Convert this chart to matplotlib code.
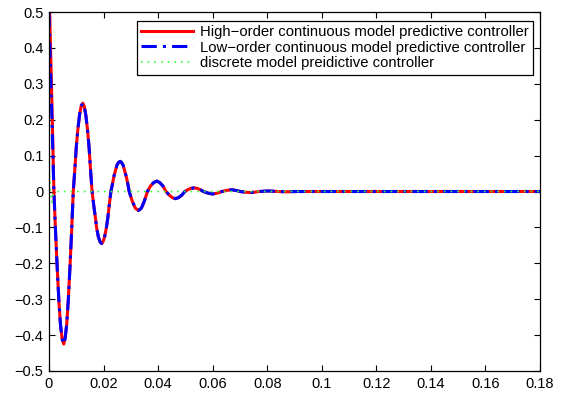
import matplotlib
matplotlib.use('Agg')
import matplotlib.pyplot as plt
import numpy as np

plt.rcParams['font.family'] = ['Liberation Sans', 'DejaVu Sans']

# time samples (s)
t = np.array([0, 0.0004, 0.0011, 0.0018,
              0.0024, 0.0030, 0.0036, 0.0042, 0.0048, 0.0054,
              0.0059, 0.0065, 0.0071, 0.0077, 0.0083, 0.0089,
              0.0095, 0.0100, 0.0106, 0.0112, 0.0118, 0.0124,
              0.0129, 0.0135, 0.0141, 0.0147, 0.0152, 0.0158,
              0.0164, 0.0170, 0.0175, 0.0181, 0.0187, 0.0193,
              0.0198, 0.0204, 0.0210, 0.0216, 0.0221, 0.0227,
              0.0233, 0.0238, 0.0244, 0.0249, 0.0255, 0.0261,
              0.0266, 0.0272, 0.0277, 0.0283, 0.0289, 0.0294,
              0.0305, 0.0316, 0.0328, 0.0339, 0.0350, 0.0361,
              0.0372, 0.0384, 0.0395, 0.0406, 0.0418, 0.0429,
              0.0441, 0.0452, 0.0464, 0.0475, 0.0487, 0.0498,
              0.0509, 0.0520, 0.0532, 0.0543, 0.0555, 0.0566,
              0.0583, 0.0600, 0.0617, 0.0634,
              0.0651, 0.0668, 0.0685, 0.0702,
              0.0719, 0.0736, 0.0753, 0.0770,
              0.0804, 0.0838, 0.0872, 0.0906, 0.18])

high_order = np.array([0.60, 0.45, 0.24, 0.0,
                       -0.11, -0.21, -0.30, -0.37, -0.41, -0.425,
                       -0.41, -0.37, -0.30, -0.21, -0.11, 0.0,
                       0.064, 0.123, 0.174, 0.213, 0.238, 0.246,
                       0.238, 0.213, 0.174, 0.123, 0.064, 0.0,
                       -0.038, -0.072, -0.103, -0.126, -0.140, -0.145,
                       -0.140, -0.126, -0.103, -0.072, -0.038, 0.0,
                       0.022, 0.042, 0.059, 0.073, 0.081, 0.084,
                       0.081, 0.073, 0.059, 0.042, 0.022, 0.0,
                       -0.026, -0.046, -0.053, -0.046, -0.026, 0.0,
                       0.015, 0.025, 0.029, 0.025, 0.015, 0.0,
                       -0.010, -0.017, -0.020, -0.017, -0.010, 0.0,
                       0.005, 0.0087, 0.010, 0.0087, 0.005, 0.0,
                       -0.0045, -0.007, -0.0045, 0.0,
                       0.003, 0.005, 0.003, 0.0,
                       -0.002, -0.003, -0.002, 0.0,
                       0.0015, 0.0, -0.0008, 0.0, 0.0])

low_order = high_order.copy()
low_order[:3] = [0.50, 0.38, 0.20]

# discrete controller: tiny blip at start, then zero
t_disc = np.array([0, 0.0005, 0.0010, 0.0015, 0.0025, 0.18])
discrete = np.array([0.10, 0.0, -0.03, -0.01, 0.0, 0.0])

fig = plt.figure(figsize=(5.61, 3.94), dpi=100)
ax = fig.add_axes([0.0873, 0.0584, 0.8753, 0.9111])

ax.plot(t, high_order, color='#ff0000', lw=2.2,
        label='High\u2212order continuous model predictive controller')
ax.plot(t, low_order, color='#0000ff', lw=2.2, linestyle=(0, (5, 2, 1, 2)),
        label='Low\u2212order continuous model predictive controller')
ax.plot(t_disc, discrete, color='#33ff33', lw=1.2, linestyle=(0, (1, 3)),
        label='discrete model preidictive controller')

ax.set_xlim(0, 0.18)
ax.set_ylim(-0.5, 0.5)
ax.set_xticks(np.arange(0, 0.181, 0.02))
ax.set_yticks(np.arange(-0.5, 0.51, 0.1))
ax.set_xticklabels(['0', '0.02', '0.04', '0.06', '0.08', '0.1', '0.12',
                    '0.14', '0.16', '0.18'])
ax.set_yticklabels(['\u22120.5', '\u22120.4', '\u22120.3', '\u22120.2', '\u22120.1', '0',
                    '0.1', '0.2', '0.3', '0.4', '0.5'])
ax.tick_params(direction='in', top=True, right=True, length=4, width=0.8,
               labelsize=10.5, pad=4)
for s in ax.spines.values():
    s.set_linewidth(0.9)

leg = ax.legend(loc='upper right', bbox_to_anchor=(0.986, 0.976),
                borderaxespad=0, fontsize=10.7, handlelength=3.5,
                fancybox=False, framealpha=1, edgecolor='black',
                labelspacing=0.1, borderpad=0.3, handletextpad=0.45)
leg.get_frame().set_linewidth(0.9)

fig.savefig('out.png', dpi=100)
